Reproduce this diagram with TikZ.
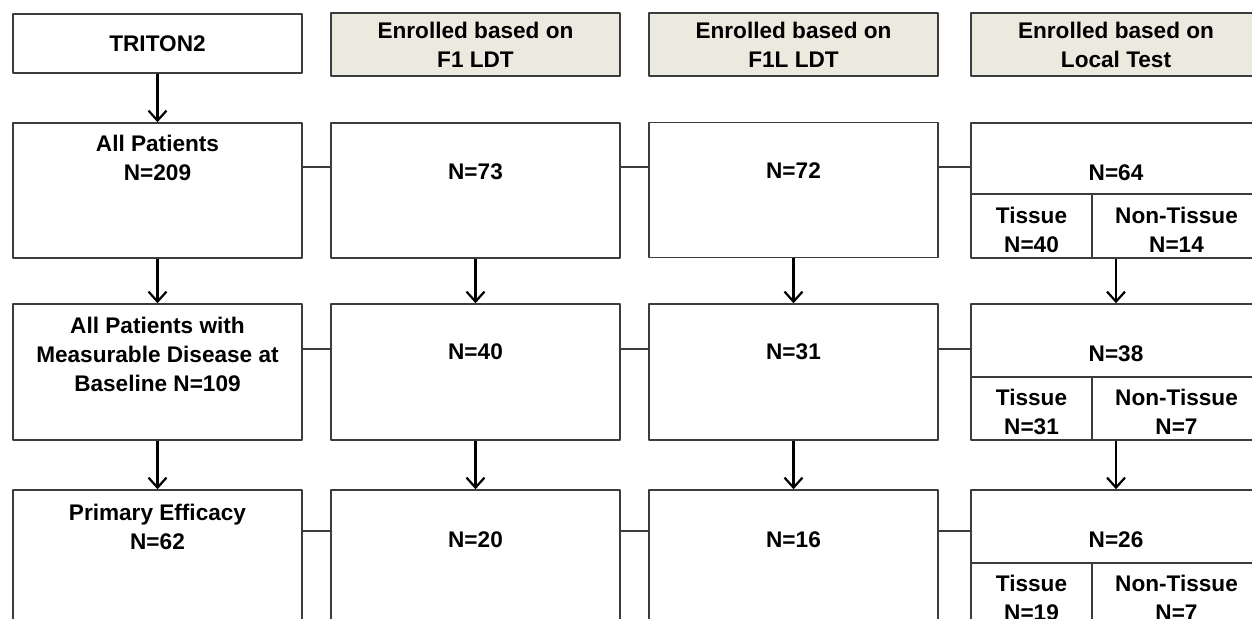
\documentclass[tikz,border=0pt]{standalone}
\usepackage{fontspec}
\setmainfont{Liberation Sans}
\usetikzlibrary{arrows.meta}
\definecolor{hdrfill}{RGB}{236,233,223}
\definecolor{framegray}{RGB}{60,60,60}

\begin{document}
\begin{tikzpicture}[x=0.5pt, y=-0.5pt, font=\fontsize{11.3}{14.5}\selectfont\bfseries, line join=round, >={Straight Barb[length=5pt,width=9pt]},
	box/.style={draw=framegray, line width=0.75pt, inner sep=0pt, minimum width=144.5pt},
	hdr/.style={box, fill=hdrfill, minimum height=31.5pt, align=center},
	cell/.style={draw=framegray, line width=0.9pt, inner sep=0pt},
	lbl/.style={align=center, inner sep=0pt},
	link/.style={draw=framegray, line width=0.6pt},
	flow/.style={->, line width=1.1pt}]
	\useasboundingbox (0,0) rectangle (1252,619);
	\clip (0,0) rectangle (1252,619);
	\fill[white] (0,0) rectangle (1252,619);

	% header row
	\node[box, minimum height=29.5pt] (tri) at (157.5,43.5) {TRITON2};
	\node[hdr] (hdrB) at (475.5,44.5) {Enrolled based on\\F1 LDT};
	\node[hdr] (hdrC) at (793.5,44.5) {Enrolled based on\\F1L LDT};
	\node[hdr, minimum width=145pt] (hdrD) at (1116,44.5) {Enrolled based on\\Local Test};

	% all patients
	\node[box, minimum height=67.5pt] (allA) at (157.5,190.5) {};
	\node[box, minimum height=67.5pt] (allB) at (475.5,190.5) {};
	\node[box, minimum height=67.5pt] (allC) at (793.5,190) {};
	\node[box, minimum width=145pt, minimum height=35.5pt] (allD) at (1116,158.5) {};
	\node[cell, minimum width=60.5pt, minimum height=32pt] (allDt) at (1031.5,226) {};
	\node[cell, minimum width=84.5pt, minimum height=32pt] (allDn) at (1176.5,226) {};
	\node[lbl] (allAl) at (157.5,157.5) {All Patients\\N=209};
	\node[lbl] (allBl) at (475.5,172) {N=73};
	\node[lbl] (allCl) at (793.5,171) {N=72};
	\node[lbl] (allDl) at (1116,173) {N=64};
	\node[lbl] (allDtl) at (1031.5,229.5) {Tissue\\N=40};
	\node[lbl] (allDnl) at (1176.5,229.5) {Non-Tissue\\N=14};

	% measurable disease
	\node[box, minimum height=68pt] (msA) at (157.5,372) {};
	\node[box, minimum height=68pt] (msB) at (475.5,372) {};
	\node[box, minimum height=68pt] (msC) at (793.5,372) {};
	\node[box, minimum width=145pt, minimum height=36.5pt] (msD) at (1116,340.5) {};
	\node[cell, minimum width=60.5pt, minimum height=31.5pt] (msDt) at (1031.5,408.5) {};
	\node[cell, minimum width=84.5pt, minimum height=31.5pt] (msDn) at (1176.5,408.5) {};
	\node[lbl] (msAl) at (157.5,354) {All Patients with\\Measurable Disease at\\Baseline N=109};
	\node[lbl] (msBl) at (475.5,352) {N=40};
	\node[lbl] (msCl) at (793.5,352) {N=31};
	\node[lbl] (msDl) at (1116,354) {N=38};
	\node[lbl] (msDtl) at (1031.5,412) {Tissue\\N=31};
	\node[lbl] (msDnl) at (1176.5,412) {Non-Tissue\\N=7};

	% primary efficacy
	\node[box, minimum height=80pt] (peA) at (157.5,570) {};
	\node[box, minimum height=80pt] (peB) at (475.5,570) {};
	\node[box, minimum height=80pt] (peC) at (793.5,570) {};
	\node[box, minimum width=145pt, minimum height=36.5pt] (peD) at (1116,526.5) {};
	\node[cell, minimum width=60.5pt, minimum height=43.5pt] (peDt) at (1031.5,606.5) {};
	\node[cell, minimum width=84.5pt, minimum height=43.5pt] (peDn) at (1176.5,606.5) {};
	\node[lbl] (peAl) at (157.5,526.5) {Primary Efficacy\\N=62};
	\node[lbl] (peBl) at (475.5,540) {N=20};
	\node[lbl] (peCl) at (793.5,540) {N=16};
	\node[lbl] (peDl) at (1116,540) {N=26};
	\node[lbl] (peDtl) at (1031.5,597.5) {Tissue\\N=19};
	\node[lbl] (peDnl) at (1176.5,597.5) {Non-Tissue\\N=7};

	% side links
	\coordinate (h1) at (0,167);
	\coordinate (h2) at (0,349);
	\coordinate (h3) at (0,531);
	\draw[link] (allA.east |- h1) -- (allB.west |- h1) (allB.east |- h1) -- (allC.west |- h1) (allC.east |- h1) -- (allD.west |- h1);
	\draw[link] (msA.east |- h2) -- (msB.west |- h2) (msB.east |- h2) -- (msC.west |- h2) (msC.east |- h2) -- (msD.west |- h2);
	\draw[link] (peA.east |- h3) -- (peB.west |- h3) (peB.east |- h3) -- (peC.west |- h3) (peC.east |- h3) -- (peD.west |- h3);

	% flow arrows
	\draw[flow] (tri) -- (allA);
	\draw[flow] (allA) -- (msA);
	\draw[flow] (allB) -- (msB);
	\draw[flow] (allC) -- (msC);
	\draw[flow] (allD.south |- allDn.south) -- (msD.north);
	\draw[flow] (msA) -- (peA);
	\draw[flow] (msB) -- (peB);
	\draw[flow] (msC) -- (peC);
	\draw[flow] (msD.south |- msDn.south) -- (peD.north);
\end{tikzpicture}
\end{document}
